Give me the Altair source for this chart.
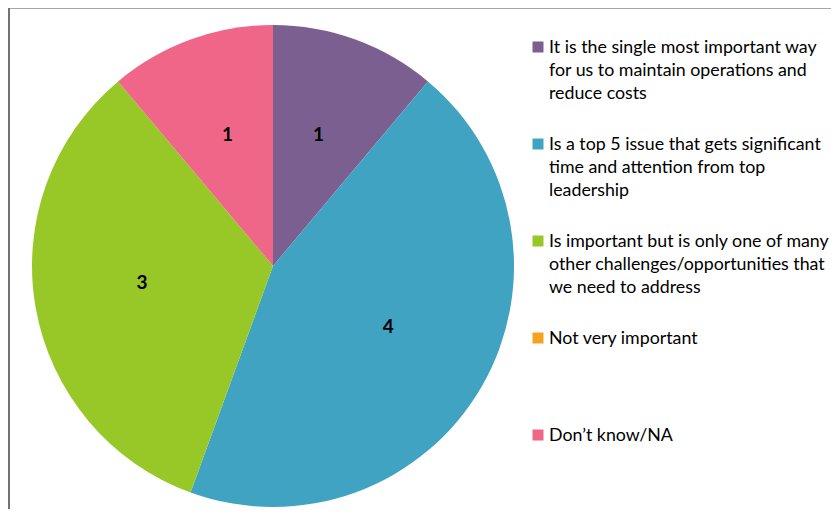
import altair as alt
import pandas as pd

categories = [
    "It is the single most important way for us to maintain operations and reduce costs",
    "Is a top 5 issue that gets significant time and attention from top leadership",
    "Is important but is only one of many other challenges/opportunities that we need to address",
    "Not very important",
    "Don’t know/NA",
]
legend_labels = [
    "It is the single most important way|for us to maintain operations and|reduce costs",
    "Is a top 5 issue that gets significant|time and attention from top|leadership",
    "Is important but is only one of many|other challenges/opportunities that|we need to address",
    "Not very important",
    "Don’t know/NA",
]
values = [1, 4, 3, 0, 1]
colors = ["#7B5F91", "#40A3C2", "#97C827", "#F5A21F", "#EF6689"]

df = pd.DataFrame({
    "category": categories,
    "label": legend_labels,
    "value": values,
    "idx": list(range(len(categories))),
})

FONT = "Lato"
cx, cy = 265, 258
color = alt.Color("category:N", scale=alt.Scale(domain=categories, range=colors), legend=None)
theta = alt.Theta("value:Q", stack=True)
ypos = alt.Y("idx:Q", scale=alt.Scale(domain=[0, 4], range=[39, 427]), axis=None)

pie = alt.Chart(df).mark_arc(outerRadius=241).encode(
    theta=theta, color=color, order=alt.Order("idx:Q"),
    x=alt.value(cx), y=alt.value(cy),
)

nums = alt.Chart(df).transform_filter("datum.value > 0").mark_text(
    radius=133, dy=-6, fontSize=19, fontWeight="bold", font=FONT, color="black"
).encode(
    theta=theta, order=alt.Order("idx:Q"), text="value:Q",
    x=alt.value(cx), y=alt.value(cy),
)

squares = alt.Chart(df).mark_square(size=121, opacity=1, filled=True).encode(
    x=alt.value(530), y=ypos, color=color,
)

texts = alt.Chart(df).mark_text(
    align="left", baseline="top", dy=-8, lineBreak="|", lineHeight=23,
    fontSize=17.8, font=FONT, color="black",
).encode(x=alt.value(541), y=ypos, text="label:N")

top_rule = alt.Chart(df).mark_rule(color="#A6A6A6", strokeWidth=2).encode(
    x=alt.value(1), x2=alt.value(823), y=alt.value(0)
)
left_rule = alt.Chart(df).mark_rule(color="#6E6E6E", strokeWidth=1).encode(
    x=alt.value(1), y=alt.value(0), y2=alt.value(501)
)

chart = alt.layer(top_rule, left_rule, pie, nums, squares, texts).properties(
    width=823, height=501, padding=0, autosize=alt.AutoSizeParams(type="none"),
    background="white",
).configure_view(stroke=None)

chart.save("out.html", embed_options={"renderer": "svg", "actions": False})
